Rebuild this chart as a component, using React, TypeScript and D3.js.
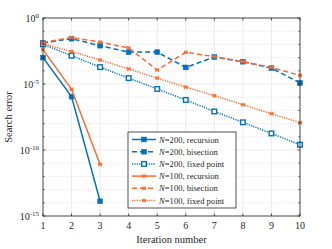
import React, { useEffect, useRef } from 'react'
import * as d3 from 'd3'

// iteration numbers
const iterations = [1, 2, 3, 4, 5, 6, 7, 8, 9, 10]

// search error values (linear values)
const n200Recursion = [1e-3, 1.1e-6, 1.3e-14]
const n200Bisection = [1.3e-2, 2.7e-2, 8e-3, 2.6e-3, 2.6e-3, 1.8e-4, 1.1e-3, 4.9e-4, 1.6e-4, 1.2e-5]
const n200Fixed = [1e-2, 1.4e-3, 1.9e-4, 2.8e-5, 4.2e-6, 6.2e-7, 8.3e-8, 1.25e-8, 1.8e-9, 2.5e-10]
const n100Recursion = [4e-3, 4e-6, 8e-12]
const n100Bisection = [1.4e-2, 3.4e-2, 1.5e-2, 5.4e-3, 1.15e-4, 2.5e-3, 1.2e-3, 4.9e-4, 1.8e-4, 4.5e-5]
const n100Fixed = [1.1e-2, 2.9e-3, 6.6e-4, 1.4e-4, 2.8e-5, 5.9e-6, 1.3e-6, 2.7e-7, 5.6e-8, 1.2e-8]

const yTickExps = [0, -5, -10, -15]

const seriesList = [
    { label: '=200, recursion', values: n200Recursion, color: '#0072bd', dash: null, marker: 'square' },
    { label: '=200, bisection', values: n200Bisection, color: '#0072bd', dash: '5,3', marker: 'square' },
    { label: '=200, fixed point', values: n200Fixed, color: '#0072bd', dash: '1.2,1.2', marker: 'hollow' },
    { label: '=100, recursion', values: n100Recursion, color: '#ff6a2b', dash: null, marker: 'star' },
    { label: '=100, bisection', values: n100Bisection, color: '#ff6a2b', dash: '5,3', marker: 'star' },
    { label: '=100, fixed point', values: n100Fixed, color: '#ff6a2b', dash: '1.2,1.2', marker: 'star' },
]

const W = 332
const H = 249
const margin = { top: 18, right: 32, bottom: 33, left: 43 }

function drawMarker(g: any, type: string, x: number, y: number, color: string) {
    if (type === 'square') {
        g.append('rect').attr('x', x - 2.4).attr('y', y - 2.4).attr('width', 4.8).attr('height', 4.8)
            .attr('fill', color).attr('stroke', color).attr('stroke-width', 0.6)
    } else if (type === 'hollow') {
        g.append('rect').attr('x', x - 2.3).attr('y', y - 2.3).attr('width', 4.6).attr('height', 4.6)
            .attr('fill', 'white').attr('stroke', color).attr('stroke-width', 1.4)
    } else {
        const r = 2.1
        const m = g.append('g').attr('stroke', color).attr('stroke-width', 1.2)
        m.append('line').attr('x1', x - r).attr('x2', x + r).attr('y1', y).attr('y2', y)
        m.append('line').attr('x1', x - r * 0.8).attr('x2', x + r * 0.8).attr('y1', y - r * 0.8).attr('y2', y + r * 0.8)
        m.append('line').attr('x1', x - r * 0.8).attr('x2', x + r * 0.8).attr('y1', y + r * 0.8).attr('y2', y - r * 0.8)
    }
}

export default function App() {
    const ref = useRef<SVGSVGElement>(null)

    useEffect(() => {
        const svg = d3.select(ref.current)
        svg.selectAll('*').remove()
        const font = 'Liberation Serif, Times New Roman, serif'

        const x = d3.scaleLinear().domain([1, 10]).range([margin.left, W - margin.right])
        const y = d3.scaleLog().domain([1e-15, 1]).range([H - margin.bottom, margin.top])
        const x0 = margin.left, x1 = W - margin.right, y0 = H - margin.bottom, y1 = margin.top

        svg.append('rect').attr('x', x0).attr('y', y1).attr('width', x1 - x0).attr('height', y0 - y1).attr('fill', 'white')

        // grid
        const grid = svg.append('g')
        iterations.forEach(t => {
            grid.append('line').attr('x1', x(t)).attr('x2', x(t)).attr('y1', y0).attr('y2', y1)
                .attr('stroke', '#e6e6e6').attr('stroke-width', 0.8)
        })
        d3.range(-15, 1).forEach(e => {
            const major = e % 5 === 0
            grid.append('line').attr('x1', x0).attr('x2', x1).attr('y1', y(Math.pow(10, e))).attr('y2', y(Math.pow(10, e)))
                .attr('stroke', major ? '#e6e6e6' : '#dcdcdc').attr('stroke-width', 0.8)
                .attr('stroke-dasharray', major ? null : '1,1.5')
        })

        // lines + markers
        const plot = svg.append('g')
        seriesList.forEach(s => {
            const pts = s.values.map((v, i) => [x(iterations[i]), y(v)] as [number, number])
            plot.append('path').attr('d', d3.line()(pts)).attr('fill', 'none')
                .attr('stroke', s.color).attr('stroke-width', 1.5)
                .attr('stroke-dasharray', s.dash)
            pts.forEach(p => drawMarker(plot, s.marker, p[0], p[1], s.color))
        })

        // axes box and ticks
        const ax = svg.append('g').attr('stroke', '#262626').attr('stroke-width', 0.8)
        ax.append('rect').attr('x', x0).attr('y', y1).attr('width', x1 - x0).attr('height', y0 - y1).attr('fill', 'none')
        iterations.forEach(t => {
            ax.append('line').attr('x1', x(t)).attr('x2', x(t)).attr('y1', y0).attr('y2', y0 - 2.5)
            ax.append('line').attr('x1', x(t)).attr('x2', x(t)).attr('y1', y1).attr('y2', y1 + 2.5)
        })
        d3.range(-15, 1).forEach(e => {
            const yy = y(Math.pow(10, e))
            const len = e % 5 === 0 ? 2.5 : 1.5
            ax.append('line').attr('x1', x0).attr('x2', x0 + len).attr('y1', yy).attr('y2', yy)
            ax.append('line').attr('x1', x1).attr('x2', x1 - len).attr('y1', yy).attr('y2', yy)
        })

        // tick labels
        iterations.forEach(t => {
            svg.append('text').attr('x', x(t)).attr('y', y0 + 13).attr('text-anchor', 'middle')
                .attr('font-family', font).attr('font-size', 10).attr('fill', '#262626').text(t)
        })
        yTickExps.forEach(e => {
            const t = svg.append('text').attr('x', x0 - 4).attr('y', y(Math.pow(10, e)) + 3.5).attr('text-anchor', 'end')
                .attr('font-family', font).attr('font-size', 10).attr('fill', '#262626')
            t.append('tspan').text('10')
            t.append('tspan').attr('dy', -4).attr('font-size', 7).text(String(e))
        })

        // axis labels
        svg.append('text').attr('x', (x0 + x1) / 2).attr('y', H - 6).attr('text-anchor', 'middle')
            .attr('font-family', font).attr('font-size', 10.5).attr('fill', '#262626').text('Iteration number')
        svg.append('text').attr('transform', `translate(12,${(y0 + y1) / 2}) rotate(-90)`).attr('text-anchor', 'middle')
            .attr('font-family', font).attr('font-size', 10.5).attr('fill', '#262626').text('Search error')

        // legend
        const lx = 128, ly = 132, lw = 108, lh = 76, rowH = 12.2
        const leg = svg.append('g')
        leg.append('rect').attr('x', lx).attr('y', ly).attr('width', lw).attr('height', lh)
            .attr('fill', 'white').attr('stroke', '#262626').attr('stroke-width', 0.8)
        seriesList.forEach((s, i) => {
            const yy = ly + 7.5 + i * rowH
            leg.append('line').attr('x1', lx + 4).attr('x2', lx + 28).attr('y1', yy).attr('y2', yy)
                .attr('stroke', s.color).attr('stroke-width', 1.5).attr('stroke-dasharray', s.dash)
            drawMarker(leg, s.marker, lx + 16, yy, s.color)
            const t = leg.append('text').attr('x', lx + 31).attr('y', yy + 3)
                .attr('font-family', font).attr('font-size', 8.6).attr('fill', '#262626')
            t.append('tspan').attr('font-style', 'italic').text('N')
            t.append('tspan').text(s.label)
        })
    }, [])

    return (
        <svg ref={ref} width={W} height={H} style={{ position: 'absolute', left: 0, top: 0 }} />
    )
}
